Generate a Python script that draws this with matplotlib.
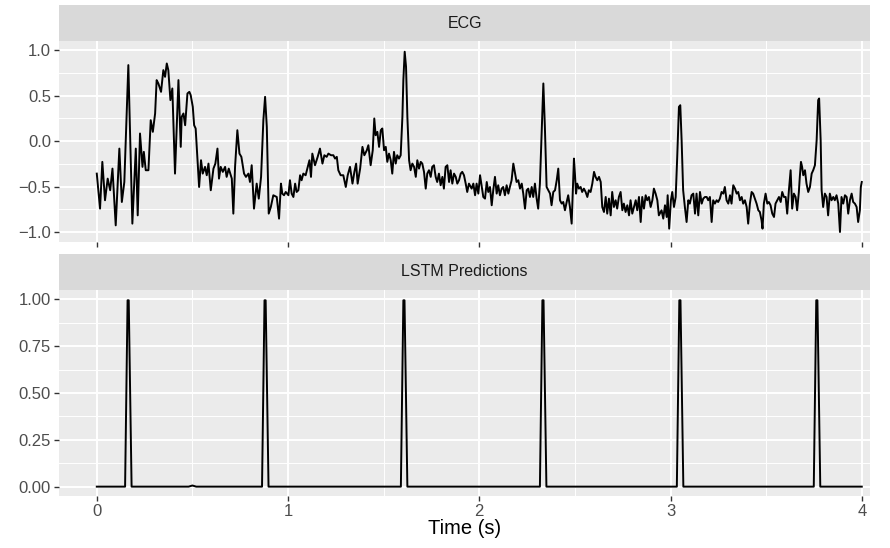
import matplotlib
matplotlib.use("Agg")
import matplotlib.pyplot as plt

# ECG trace (time in s, amplitude)
ecg_t = [0.000, 0.017, 0.029, 0.043, 0.057, 0.070, 0.082, 0.099, 0.118, 0.131,
         0.144, 0.165, 0.186, 0.204, 0.214, 0.226, 0.239, 0.246, 0.256, 0.270,
         0.282, 0.293, 0.305, 0.313, 0.322, 0.336, 0.348, 0.357, 0.366, 0.374,
         0.385, 0.395, 0.409, 0.427, 0.439,
         0.444, 0.453, 0.462, 0.474, 0.484, 0.491, 0.502, 0.509, 0.517, 0.535,
         0.545, 0.554, 0.566, 0.575, 0.584, 0.596, 0.610, 0.620, 0.631, 0.639,
         0.648, 0.659, 0.671, 0.679, 0.690, 0.706, 0.714, 0.723, 0.735, 0.746,
         0.756, 0.770, 0.780, 0.793, 0.801, 0.810, 0.822, 0.836, 0.847, 0.859,
         0.871, 0.880, 0.889, 0.899, 0.910, 0.923, 0.941, 0.953,
         0.963, 0.970, 0.979, 0.988, 1.002, 1.010, 1.019, 1.028, 1.037, 1.045,
         1.054, 1.063, 1.071, 1.080, 1.092, 1.103, 1.112, 1.120, 1.127, 1.141,
         1.155, 1.167, 1.180, 1.190, 1.202, 1.211, 1.225, 1.237, 1.246, 1.255,
         1.263, 1.275, 1.289, 1.302, 1.312, 1.324, 1.337, 1.347, 1.356, 1.364,
         1.377, 1.389, 1.399, 1.412, 1.420, 1.432, 1.443, 1.451,
         1.458, 1.467, 1.476, 1.485, 1.493, 1.502, 1.511, 1.519, 1.528, 1.537,
         1.545, 1.554, 1.563, 1.571, 1.580, 1.589, 1.598, 1.603, 1.610, 1.617,
         1.624, 1.633, 1.641, 1.650, 1.659, 1.668, 1.676, 1.685, 1.694, 1.702,
         1.711, 1.720, 1.728, 1.737, 1.746, 1.754, 1.763, 1.772, 1.780, 1.789,
         1.798, 1.807, 1.815, 1.824, 1.833, 1.842, 1.850, 1.859, 1.868, 1.877,
         1.885, 1.894, 1.903, 1.911, 1.920, 1.929, 1.937, 1.946,
         1.960, 1.969, 1.978, 1.986, 1.995, 2.004, 2.013, 2.021, 2.030, 2.039,
         2.047, 2.056, 2.065, 2.073, 2.082, 2.091, 2.099, 2.108, 2.117, 2.125,
         2.134, 2.143, 2.152, 2.160, 2.169, 2.178, 2.187, 2.195, 2.204, 2.213,
         2.222, 2.230, 2.239, 2.248, 2.256, 2.265, 2.274, 2.282, 2.291, 2.300,
         2.308, 2.317, 2.326, 2.335, 2.343, 2.352, 2.361, 2.370, 2.378, 2.387,
         2.396, 2.405, 2.413, 2.422, 2.431, 2.439,
         2.448, 2.457, 2.465, 2.474, 2.483, 2.488, 2.495, 2.500, 2.506, 2.512,
         2.521, 2.530, 2.538, 2.547, 2.556, 2.565, 2.573, 2.582, 2.591, 2.600,
         2.608, 2.617, 2.626, 2.635, 2.643, 2.652, 2.661, 2.669, 2.678, 2.687,
         2.695, 2.704, 2.713, 2.721, 2.730, 2.739, 2.748, 2.756, 2.765, 2.774,
         2.783, 2.791, 2.800, 2.809, 2.818, 2.826, 2.835, 2.844, 2.852, 2.861,
         2.870, 2.878, 2.887, 2.896, 2.905, 2.913, 2.922, 2.931, 2.939,
         2.953, 2.962, 2.971, 2.980, 2.985, 2.993, 3.002, 3.009, 3.018, 3.027,
         3.035, 3.044, 3.051, 3.058, 3.066, 3.075, 3.084, 3.093, 3.101, 3.110,
         3.119, 3.128, 3.136, 3.145, 3.154, 3.163, 3.171, 3.180, 3.189, 3.197,
         3.206, 3.215, 3.223, 3.232, 3.241, 3.249, 3.258, 3.267, 3.276, 3.284,
         3.293, 3.302, 3.311, 3.319, 3.328, 3.337, 3.346, 3.354, 3.363, 3.372,
         3.380, 3.389, 3.398, 3.406, 3.415, 3.424, 3.432,
         3.450, 3.459, 3.467, 3.476, 3.481, 3.488, 3.497, 3.506, 3.514, 3.523,
         3.532, 3.541, 3.549, 3.558, 3.567, 3.576, 3.584, 3.593, 3.602, 3.610,
         3.619, 3.628, 3.636, 3.645, 3.654, 3.662, 3.671, 3.676, 3.682, 3.688,
         3.694, 3.703, 3.711, 3.720, 3.729, 3.738, 3.746, 3.755, 3.764, 3.772,
         3.777, 3.785, 3.790, 3.798, 3.807, 3.816, 3.824, 3.833, 3.842, 3.851,
         3.859, 3.868, 3.877, 3.886, 3.894, 3.903, 3.912, 3.921, 3.929, 3.938,
         3.947, 3.955, 3.964, 3.973, 3.981, 3.990, 3.995, 4.000]

ecg_v = [-0.358, -0.743, -0.229, -0.651, -0.413, -0.541, -0.303, -0.927, -0.083, -0.670,
         -0.450, 0.835, -0.908, -0.083, -0.817, 0.083, -0.284, -0.119, -0.321, -0.321,
         0.229, 0.101, 0.303, 0.670, 0.633, 0.541, 0.780, 0.706, 0.853, 0.780,
         0.450, 0.578, -0.358, 0.670, -0.064,
         0.266, 0.303, 0.174, 0.523, 0.541, 0.505, 0.376, 0.174, 0.138, -0.505,
         -0.211, -0.358, -0.284, -0.376, -0.248, -0.541, -0.303, -0.248, -0.083, -0.413,
         -0.284, -0.339, -0.284, -0.394, -0.303, -0.413, -0.798, -0.284, 0.119, -0.138,
         -0.174, -0.358, -0.394, -0.358, -0.450, -0.266, -0.743, -0.468, -0.633, -0.394,
         0.229, 0.486, 0.156, -0.798, -0.725, -0.596, -0.615, -0.853,
         -0.468, -0.578, -0.596, -0.560, -0.596, -0.431, -0.578, -0.615, -0.468, -0.560,
         -0.541, -0.376, -0.431, -0.358, -0.376, -0.284, -0.211, -0.394, -0.138, -0.266,
         -0.174, -0.083, -0.248, -0.156, -0.174, -0.138, -0.156, -0.156, -0.193, -0.174,
         -0.321, -0.376, -0.376, -0.505, -0.376, -0.284, -0.468, -0.339, -0.248, -0.468,
         -0.303, -0.064, -0.156, -0.101, -0.046, -0.266, -0.101, 0.248,
         0.064, 0.101, -0.064, 0.119, 0.138, -0.101, -0.064, -0.229, -0.138, -0.211,
         -0.358, -0.119, -0.248, -0.156, -0.193, -0.156, 0.266, 0.670, 0.982, 0.817,
         0.266, -0.211, -0.321, -0.248, -0.284, -0.394, -0.211, -0.303, -0.229, -0.248,
         -0.339, -0.523, -0.358, -0.321, -0.394, -0.284, -0.266, -0.394, -0.450, -0.358,
         -0.486, -0.394, -0.523, -0.284, -0.266, -0.450, -0.321, -0.468, -0.358, -0.394,
         -0.468, -0.431, -0.358, -0.339, -0.376, -0.468, -0.560, -0.468,
         -0.523, -0.468, -0.596, -0.468, -0.578, -0.376, -0.505, -0.615, -0.633, -0.450,
         -0.560, -0.505, -0.706, -0.541, -0.394, -0.578, -0.486, -0.596, -0.523, -0.505,
         -0.596, -0.486, -0.578, -0.505, -0.431, -0.248, -0.358, -0.450, -0.431, -0.523,
         -0.468, -0.578, -0.743, -0.541, -0.523, -0.615, -0.505, -0.615, -0.468, -0.633,
         -0.743, -0.468, 0.083, 0.633, 0.156, -0.505, -0.541, -0.578, -0.706, -0.560,
         -0.541, -0.431, -0.303, -0.651, -0.688, -0.670,
         -0.761, -0.670, -0.596, -0.725, -0.908, -0.615, -0.193, -0.358, -0.578, -0.468,
         -0.523, -0.505, -0.560, -0.523, -0.560, -0.615, -0.541, -0.560, -0.468, -0.339,
         -0.394, -0.431, -0.394, -0.450, -0.725, -0.780, -0.615, -0.798, -0.633, -0.817,
         -0.560, -0.725, -0.651, -0.743, -0.615, -0.560, -0.761, -0.688, -0.780, -0.706,
         -0.817, -0.651, -0.798, -0.725, -0.651, -0.761, -0.615, -0.890, -0.615, -0.743,
         -0.596, -0.651, -0.615, -0.725, -0.651, -0.523, -0.578, -0.651, -0.817,
         -0.761, -0.853, -0.706, -0.835, -0.596, -0.963, -0.651, -0.560, -0.725, -0.615,
         -0.174, 0.376, 0.394, 0.009, -0.541, -0.725, -0.890, -0.651, -0.688, -0.596,
         -0.578, -0.798, -0.578, -0.817, -0.560, -0.688, -0.633, -0.615, -0.615, -0.651,
         -0.615, -0.890, -0.651, -0.688, -0.651, -0.670, -0.633, -0.560, -0.578, -0.505,
         -0.651, -0.688, -0.596, -0.688, -0.486, -0.523, -0.578, -0.560, -0.651, -0.615,
         -0.688, -0.651, -0.725, -0.908, -0.688, -0.560, -0.578,
         -0.688, -0.761, -0.780, -0.872, -0.963, -0.688, -0.578, -0.688, -0.670, -0.706,
         -0.798, -0.835, -0.688, -0.651, -0.615, -0.670, -0.560, -0.615, -0.615, -0.798,
         -0.541, -0.321, -0.743, -0.578, -0.615, -0.761, -0.560, -0.394, -0.229, -0.284,
         -0.376, -0.321, -0.468, -0.560, -0.505, -0.358, -0.321, -0.266, 0.009, 0.450,
         0.468, 0.009, -0.541, -0.725, -0.578, -0.615, -0.817, -0.578, -0.651, -0.615,
         -0.651, -0.596, -0.688, -1.000, -0.615, -0.688, -0.596, -0.615, -0.798, -0.651,
         -0.578, -0.670, -0.688, -0.725, -0.890, -0.761, -0.505, -0.450]

# LSTM output: flat zero with narrow spikes at the detected beats
lstm_t = [0.000, 0.148, 0.161, 0.167, 0.182, 0.480, 0.500, 0.520,
          0.864, 0.877, 0.883, 0.898,
          1.590, 1.603, 1.609, 1.624,
          2.317, 2.330, 2.336, 2.351,
          3.033, 3.046, 3.052, 3.067,
          3.749, 3.762, 3.768, 3.783, 4.000]
lstm_v = [0.0, 0.0, 0.995, 0.995, 0.0, 0.0, 0.006, 0.0,
          0.0, 0.995, 0.995, 0.0,
          0.0, 0.995, 0.995, 0.0,
          0.0, 0.995, 0.995, 0.0,
          0.0, 0.995, 0.995, 0.0,
          0.0, 0.995, 0.995, 0.0, 0.0]

x_ticks = [0, 1, 2, 3, 4]
ecg_ticks = [-1.0, -0.5, 0.0, 0.5, 1.0]
lstm_ticks = [0.0, 0.25, 0.5, 0.75, 1.0]

W, H = 890, 548
plt.rcParams['font.family'] = ['Liberation Sans', 'DejaVu Sans']
fig = plt.figure(figsize=(W / 100, H / 100), dpi=100)
fig.patch.set_facecolor('white')

LEFT, RIGHT = 59.3, 870


def box(left, top, right, bottom):
    return [left / W, 1 - bottom / H, (right - left) / W, (bottom - top) / H]


def panel(top, bottom, ylim, yticks, ylabels):
    ax = fig.add_axes(box(LEFT, top, RIGHT, bottom))
    ax.set_facecolor('#EBEBEB')
    for s in ax.spines.values():
        s.set_visible(False)
    ax.set_xlim(-0.196, 4.043)
    ax.set_ylim(*ylim)
    ax.set_xticks(x_ticks)
    ax.set_xticks([0.5, 1.5, 2.5, 3.5], minor=True)
    ax.set_yticks(yticks)
    ax.set_yticklabels(ylabels)
    ax.set_yticks([(a + b) / 2 for a, b in zip(yticks[:-1], yticks[1:])], minor=True)
    ax.grid(which='major', color='white', lw=1.4)
    ax.grid(which='minor', color='white', lw=0.7)
    ax.set_axisbelow(True)
    ax.tick_params(which='major', length=3.5, width=1.0, color='#333333',
                   labelsize=12, labelcolor='#4D4D4D', pad=2.5)
    ax.tick_params(which='minor', length=0)
    return ax


def strip(top, bottom, label):
    s = fig.add_axes(box(LEFT, top, RIGHT, bottom))
    s.set_facecolor('#D9D9D9')
    s.set_xticks([])
    s.set_yticks([])
    for sp in s.spines.values():
        sp.set_visible(False)
    s.text(0.5, 0.5, label, ha='center', va='center', fontsize=11.5,
           color='#1A1A1A', transform=s.transAxes)


ax1 = panel(41, 242, (-1.11, 1.10), ecg_ticks,
            ['\u22121.0', '\u22120.5', '0.0', '0.5', '1.0'])
ax1.tick_params(labelbottom=False)
ax1.plot(ecg_t, ecg_v, color='black', lw=1.4, solid_joinstyle='round')
strip(5, 41, 'ECG')

ax2 = panel(290, 496, (-0.05, 1.05), lstm_ticks,
            ['0.00', '0.25', '0.50', '0.75', '1.00'])
ax2.set_xticklabels([str(v) for v in x_ticks])
ax2.plot(lstm_t, lstm_v, color='black', lw=1.4, solid_joinstyle='round')
strip(254, 290, 'LSTM Predictions')

fig.text((LEFT + RIGHT) / 2 / W, 1 - 529 / H, 'Time (s)', ha='center', va='center',
         fontsize=14.5, color='black')

fig.savefig('out.png', dpi=100)
